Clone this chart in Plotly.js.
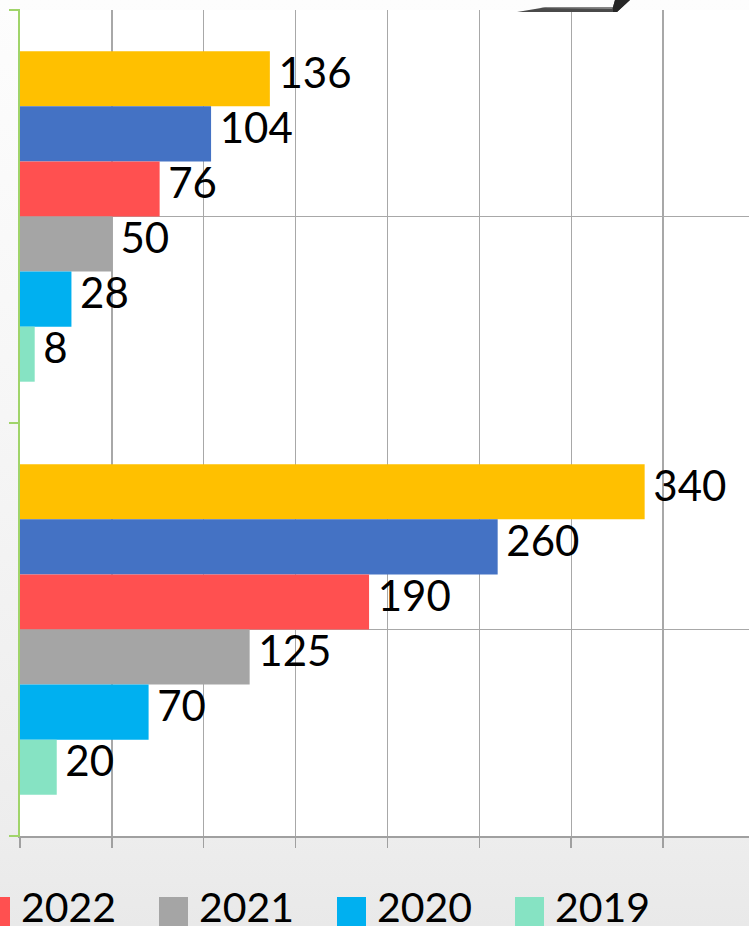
<!DOCTYPE html>
<html>
<head>
<meta charset="utf-8">
<script src="https://cdn.plot.ly/plotly-3.0.1.min.js"></script>
<style>
  html, body { margin: 0; padding: 0; }
  body { width: 749px; height: 926px; overflow: hidden;
         background: linear-gradient(to bottom, #fdfdfd 0%, #f6f6f6 45%, #ededed 90%, #e9e9e9 100%); }
  #chart { width: 749px; height: 926px; }
  /* small nudge of the data labels (Excel-like placement) */
  #chart .bartext { translate: 3px -7px; }
</style>
</head>
<body>
<div id="chart"></div>
<script>
// ---- data (categories listed top to bottom) ----
const categories = ["Category 1", "Category 2"];
const seriesNames = ["2024", "2023", "2022", "2021", "2020", "2019"];
const values2024 = [136, 340];
const values2023 = [104, 260];
const values2022 = [76, 190];
const values2021 = [50, 125];
const values2020 = [28, 70];
const values2019 = [8, 20];
const seriesValues = [values2024, values2023, values2022, values2021, values2020, values2019];

// ---- styles ----
const seriesColors = ["#FFC000", "#4472C4", "#FF5050", "#A5A5A5", "#00B0F0", "#86E3C3"];
const FONT = "Lato, 'Open Sans', sans-serif";
const W = 749, H = 926;
const M = {l: 20, r: 0, t: 10, b: 90};
const PW = W - M.l - M.r, PH = H - M.t - M.b;
const px = x => (x - M.l) / PW;          // pixel -> paper x
const py = y => (H - M.b - y) / PH;      // pixel -> paper y
const green = "#a0d46a";
const gridGray = "#a8a8a8";

const traces = seriesNames.map((name, i) => ({
  type: "bar",
  orientation: "h",
  name: name,
  y: categories,
  x: seriesValues[i],
  marker: {color: seriesColors[i], line: {width: 0}},
  texttemplate: "\u200a%{x}",
  textposition: "outside",
  constraintext: "none",
  cliponaxis: false,
  textfont: {family: FONT, size: 42, color: "#000"},
  showlegend: false,
  hoverinfo: "x+name"
}));

const shapes = [];
// y-axis boundary ticks (green, pointing left)
[0, 0.5, 1].forEach(b => shapes.push({
  type: "line", xref: "paper", yref: "paper",
  x0: px(9), x1: px(20), y0: b, y1: b,
  line: {color: green, width: 2}, layer: "above"
}));
// decorative bevel remnant at the top
shapes.push({
  type: "path", xref: "paper", yref: "paper", layer: "above",
  path: `M${px(517)},${py(12)} L${px(547)},${py(7)} L${px(613)},${py(7)} L${px(615)},${py(0)} L${px(630)},${py(0)} L${px(617)},${py(12)} Z`,
  fillcolor: "#4a4a4a", line: {width: 0}
});
shapes.push({
  type: "path", xref: "paper", yref: "paper", layer: "above",
  path: `M${px(540)},${py(8)} L${px(547)},${py(7)} L${px(613)},${py(7)} L${px(612)},${py(9)} Z`,
  fillcolor: "#858585", line: {width: 0}
});
shapes.push({
  type: "path", xref: "paper", yref: "paper", layer: "above",
  path: `M${px(613)},${py(7)} L${px(615)},${py(0)} L${px(630)},${py(0)} L${px(617)},${py(12)} L${px(613)},${py(12)} Z`,
  fillcolor: "#262626", line: {width: 0}
});

// custom legend (big square swatches), cropped at the left edge like the reference
const annotations = [];
seriesNames.forEach((name, i) => {
  const x0 = -375 + 178 * i;
  if (x0 + 29 <= 0) return;               // entirely outside the visible crop
  shapes.push({
    type: "rect", xref: "paper", yref: "paper", layer: "above",
    x0: px(x0), x1: px(x0 + 29), y0: py(926), y1: py(897),
    fillcolor: seriesColors[i], line: {width: 0}
  });
  annotations.push({
    xref: "paper", yref: "paper", x: px(x0 + 29 + 9), y: py(907),
    xanchor: "left", yanchor: "middle", showarrow: false,
    text: name, font: {family: FONT, size: 41, color: "#000"}
  });
});

const layout = {
  width: W, height: H,
  margin: M,
  paper_bgcolor: "rgba(0,0,0,0)",
  plot_bgcolor: "#ffffff",
  barmode: "group",
  bargap: 0.2,
  bargroupgap: 0,
  showlegend: false,
  xaxis: {
    range: [0, 396.8], tick0: 0, dtick: 50,
    showticklabels: false,
    ticks: "outside", ticklen: 10, tickwidth: 1.5, tickcolor: "#a0a0a0",
    showgrid: true, gridcolor: gridGray, gridwidth: 1.3,
    showline: true, linecolor: "#a0a0a0", linewidth: 1.5,
    zeroline: false, fixedrange: true
  },
  yaxis: {
    type: "category", autorange: "reversed",
    showticklabels: false, ticks: "",
    showgrid: true, gridcolor: gridGray, gridwidth: 1.3,
    showline: true, linecolor: green, linewidth: 2,
    zeroline: false, fixedrange: true
  },
  shapes: shapes,
  annotations: annotations
};

Plotly.newPlot("chart", traces, layout, {displayModeBar: false, staticPlot: true});
</script>
</body>
</html>
